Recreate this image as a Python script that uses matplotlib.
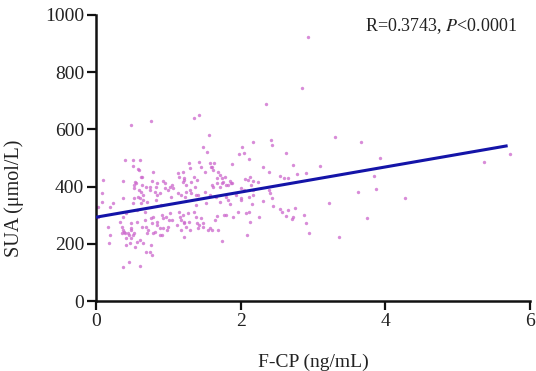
import matplotlib
matplotlib.use("Agg")
import matplotlib.pyplot as plt

# ---- data ----
fcp = [
    # sparse / outliers
    2.93, 2.85, 2.35, 3.31, 3.67, 3.92, 3.85, 3.62, 3.87, 4.27, 3.74, 3.36, 5.37, 5.72, 3.22,
    3.09, 2.78, 2.90, 2.63, 2.72,
    # upper block
    0.48, 0.76, 1.36, 1.42, 1.56, 1.48, 1.54, 0.40, 0.51, 0.61, 0.51, 0.58, 0.79, 2.17, 2.42,
    2.43, 2.02, 2.05, 1.98, 2.12, 1.88, 2.31, 2.39, 0.60, 1.43, 1.45, 1.57, 1.59, 1.50, 1.68,
    1.28, 1.30, 1.63, 1.62, 1.14, 1.20, 1.35, 1.39, 1.21, 1.25, 1.67, 1.22, 1.15, 1.31, 1.20,
    1.61, 1.75, 1.80, 1.87, 2.10, 2.14, 2.01, 2.05, 2.17, 1.71, 1.60, 1.74, 1.78,
    # upper-left
    0.10, 0.38, 0.54, 0.63, 0.63, 0.77, 0.92, 1.02, 0.62, 0.95, 0.81, 0.83, 0.85, 0.74, 0.99,
    1.04, 1.06, 0.55, 0.53, 0.62, 0.69, 0.52, 0.59, 0.65, 0.61, 0.75, 0.84, 0.89, 0.95, 1.05,
    1.14, 1.23, 1.30, 1.37, 1.41, 1.51, 1.62, 0.38, 0.52, 0.19, 0.24, 0.58, 0.51, 0.62, 0.65,
    0.71, 0.83, 0.90, 0.08, 0.08, 0.03, 0.17, 0.03,
    # middle
    1.24, 1.31, 1.38, 1.18, 1.57, 1.66, 1.80, 1.94, 2.01, 2.12, 1.71, 1.82, 2.01, 1.38, 1.52,
    1.85, 2.17, 2.15, 2.31, 2.43, 2.45, 2.54, 2.57, 2.66, 2.75, 1.97, 2.11, 1.89, 1.80, 1.67,
    1.65, 2.26, 2.13, 2.63, 2.71, 2.73, 2.87, 2.91, 2.94, 1.60, 1.69, 2.09, 1.74,
    2.24, 2.39, 2.40, 2.54, 2.60, 2.65, 2.13, 2.17, 2.06, 1.85, 1.88, 1.83, 1.74, 1.71, 1.67,
    # lower block
    0.19, 0.38, 0.46, 0.61, 0.74, 0.77, 0.42, 0.47, 0.56, 0.61, 0.65, 0.54, 0.41, 0.49, 0.36,
    0.38, 0.40, 0.45, 0.52, 0.36, 0.49, 0.33, 0.49, 0.56, 0.68, 0.63, 0.72, 0.84, 0.89, 0.79,
    0.91, 0.98, 1.05, 1.12, 1.21, 1.25, 1.30, 1.39, 1.48, 1.55, 1.16, 1.02, 0.91, 0.79, 0.68,
    0.56, 0.42, 0.38, 0.76, 0.78, 0.85, 0.92, 0.97, 1.01, 0.69, 0.81, 0.88, 0.92, 0.99, 0.71,
    0.18, 0.69, 0.76, 0.39, 0.44, 0.51, 0.48,
    1.15, 1.20, 1.18, 1.22, 1.29, 1.27, 1.36, 1.38, 1.45, 1.43, 1.48, 1.41, 1.18, 1.22, 1.57,
    1.77, 2.07,
]
sua = [
    923, 745, 688, 572, 555, 501, 437, 380, 390, 359, 289, 225, 487, 513, 343,
    472, 444, 449, 519, 476,
    615, 630, 641, 650, 580, 537, 521, 493, 493, 493, 472, 461, 452, 557, 563,
    545, 537, 519, 513, 495, 479, 467, 450, 458, 487, 470, 481, 470, 452, 452,
    481, 464, 484, 458, 446, 452, 435, 423, 423, 406, 411, 429, 435, 417, 417,
    406, 417, 406, 411, 423, 406, 394, 388, 388, 441, 467, 429, 432,
    423, 420, 417, 432, 406, 420, 420, 400, 435, 411, 382, 400, 371, 388, 388,
    365, 394, 411, 394, 382, 400, 406, 388, 371, 359, 400, 411, 376, 394, 406,
    376, 365, 388, 400, 371, 382, 400, 359, 359, 330, 342, 365, 342, 342, 353,
    347, 353, 336, 376, 347, 330, 260, 295,
    382, 376, 371, 371, 371, 365, 365, 371, 359, 365, 347, 353, 353, 336, 342,
    339, 371, 339, 351, 359, 332, 320, 312, 318, 324, 312, 312, 295, 301, 297,
    283, 295, 277, 297, 286, 293, 301, 272, 239, 248, 248, 231, 211,
    417, 388, 379, 437, 429, 429, 432, 420, 425, 420, 411, 406, 411, 400, 429,
    231, 118, 137, 122, 172, 161, 196, 202, 207, 213, 202, 190, 219, 219, 260,
    248, 237, 231, 237, 237, 248, 277, 272, 277, 283, 260, 248, 266, 254, 237,
    231, 248, 283, 266, 277, 260, 248, 272, 260, 248, 295, 307, 301, 295, 312,
    318, 307, 295, 289, 272, 277, 289, 295, 283, 260, 242, 231, 254, 260, 237,
    202, 172, 196, 242, 237, 231, 254,
    312, 301, 283, 272, 277, 307, 312, 295, 289, 266, 272, 254, 248, 225, 254,
    301, 307,
]
fit_x = [0.0, 5.67]
fit_y = [293, 542]
x_ticks = [0, 2, 4, 6]
y_ticks = [0, 200, 400, 600, 800, 1000]
x_label = "F-CP (ng/mL)"
y_label = "SUA (μmol/L)"

plt.rcParams['font.family'] = ['Liberation Serif', 'DejaVu Serif']
plt.rcParams['mathtext.fontset'] = 'stix'

fig = plt.figure(figsize=(5.36, 3.71), dpi=100)
ax = fig.add_axes([96 / 536, 70 / 371, (530 - 96) / 536, (301 - 15) / 371])

ax.scatter(fcp, sua, s=6, color='#cc66cc', alpha=0.75, linewidths=0, zorder=2)
ax.plot(fit_x, fit_y, color='#1414a8', linewidth=2.2, zorder=3)

ax.set_xlim(0, 6)
ax.set_ylim(0, 1000)
ax.set_xticks(x_ticks)
ax.set_yticks(y_ticks)
ax.tick_params(direction='out', length=6.5, width=1.6, labelsize=14, pad=2,
               color='#111111', labelcolor='#222222')
for s in ['top', 'right']:
    ax.spines[s].set_visible(False)
for s in ['left', 'bottom']:
    ax.spines[s].set_linewidth(1.8)
    ax.spines[s].set_color('#111111')

ax.set_xlabel(x_label, fontsize=14, color='#222222')
ax.set_ylabel(y_label, fontsize=14.5, color='#222222')
ax.xaxis.set_label_coords(0.5, -0.185)
ax.yaxis.set_label_coords(-0.165, 0.36)

ax.text(3.72, 960, r"R=0.3743, $\mathit{P}$<0.0001", fontsize=13, ha='left', va='center',
        color='#222222')

fig.savefig("out.png", dpi=100)
